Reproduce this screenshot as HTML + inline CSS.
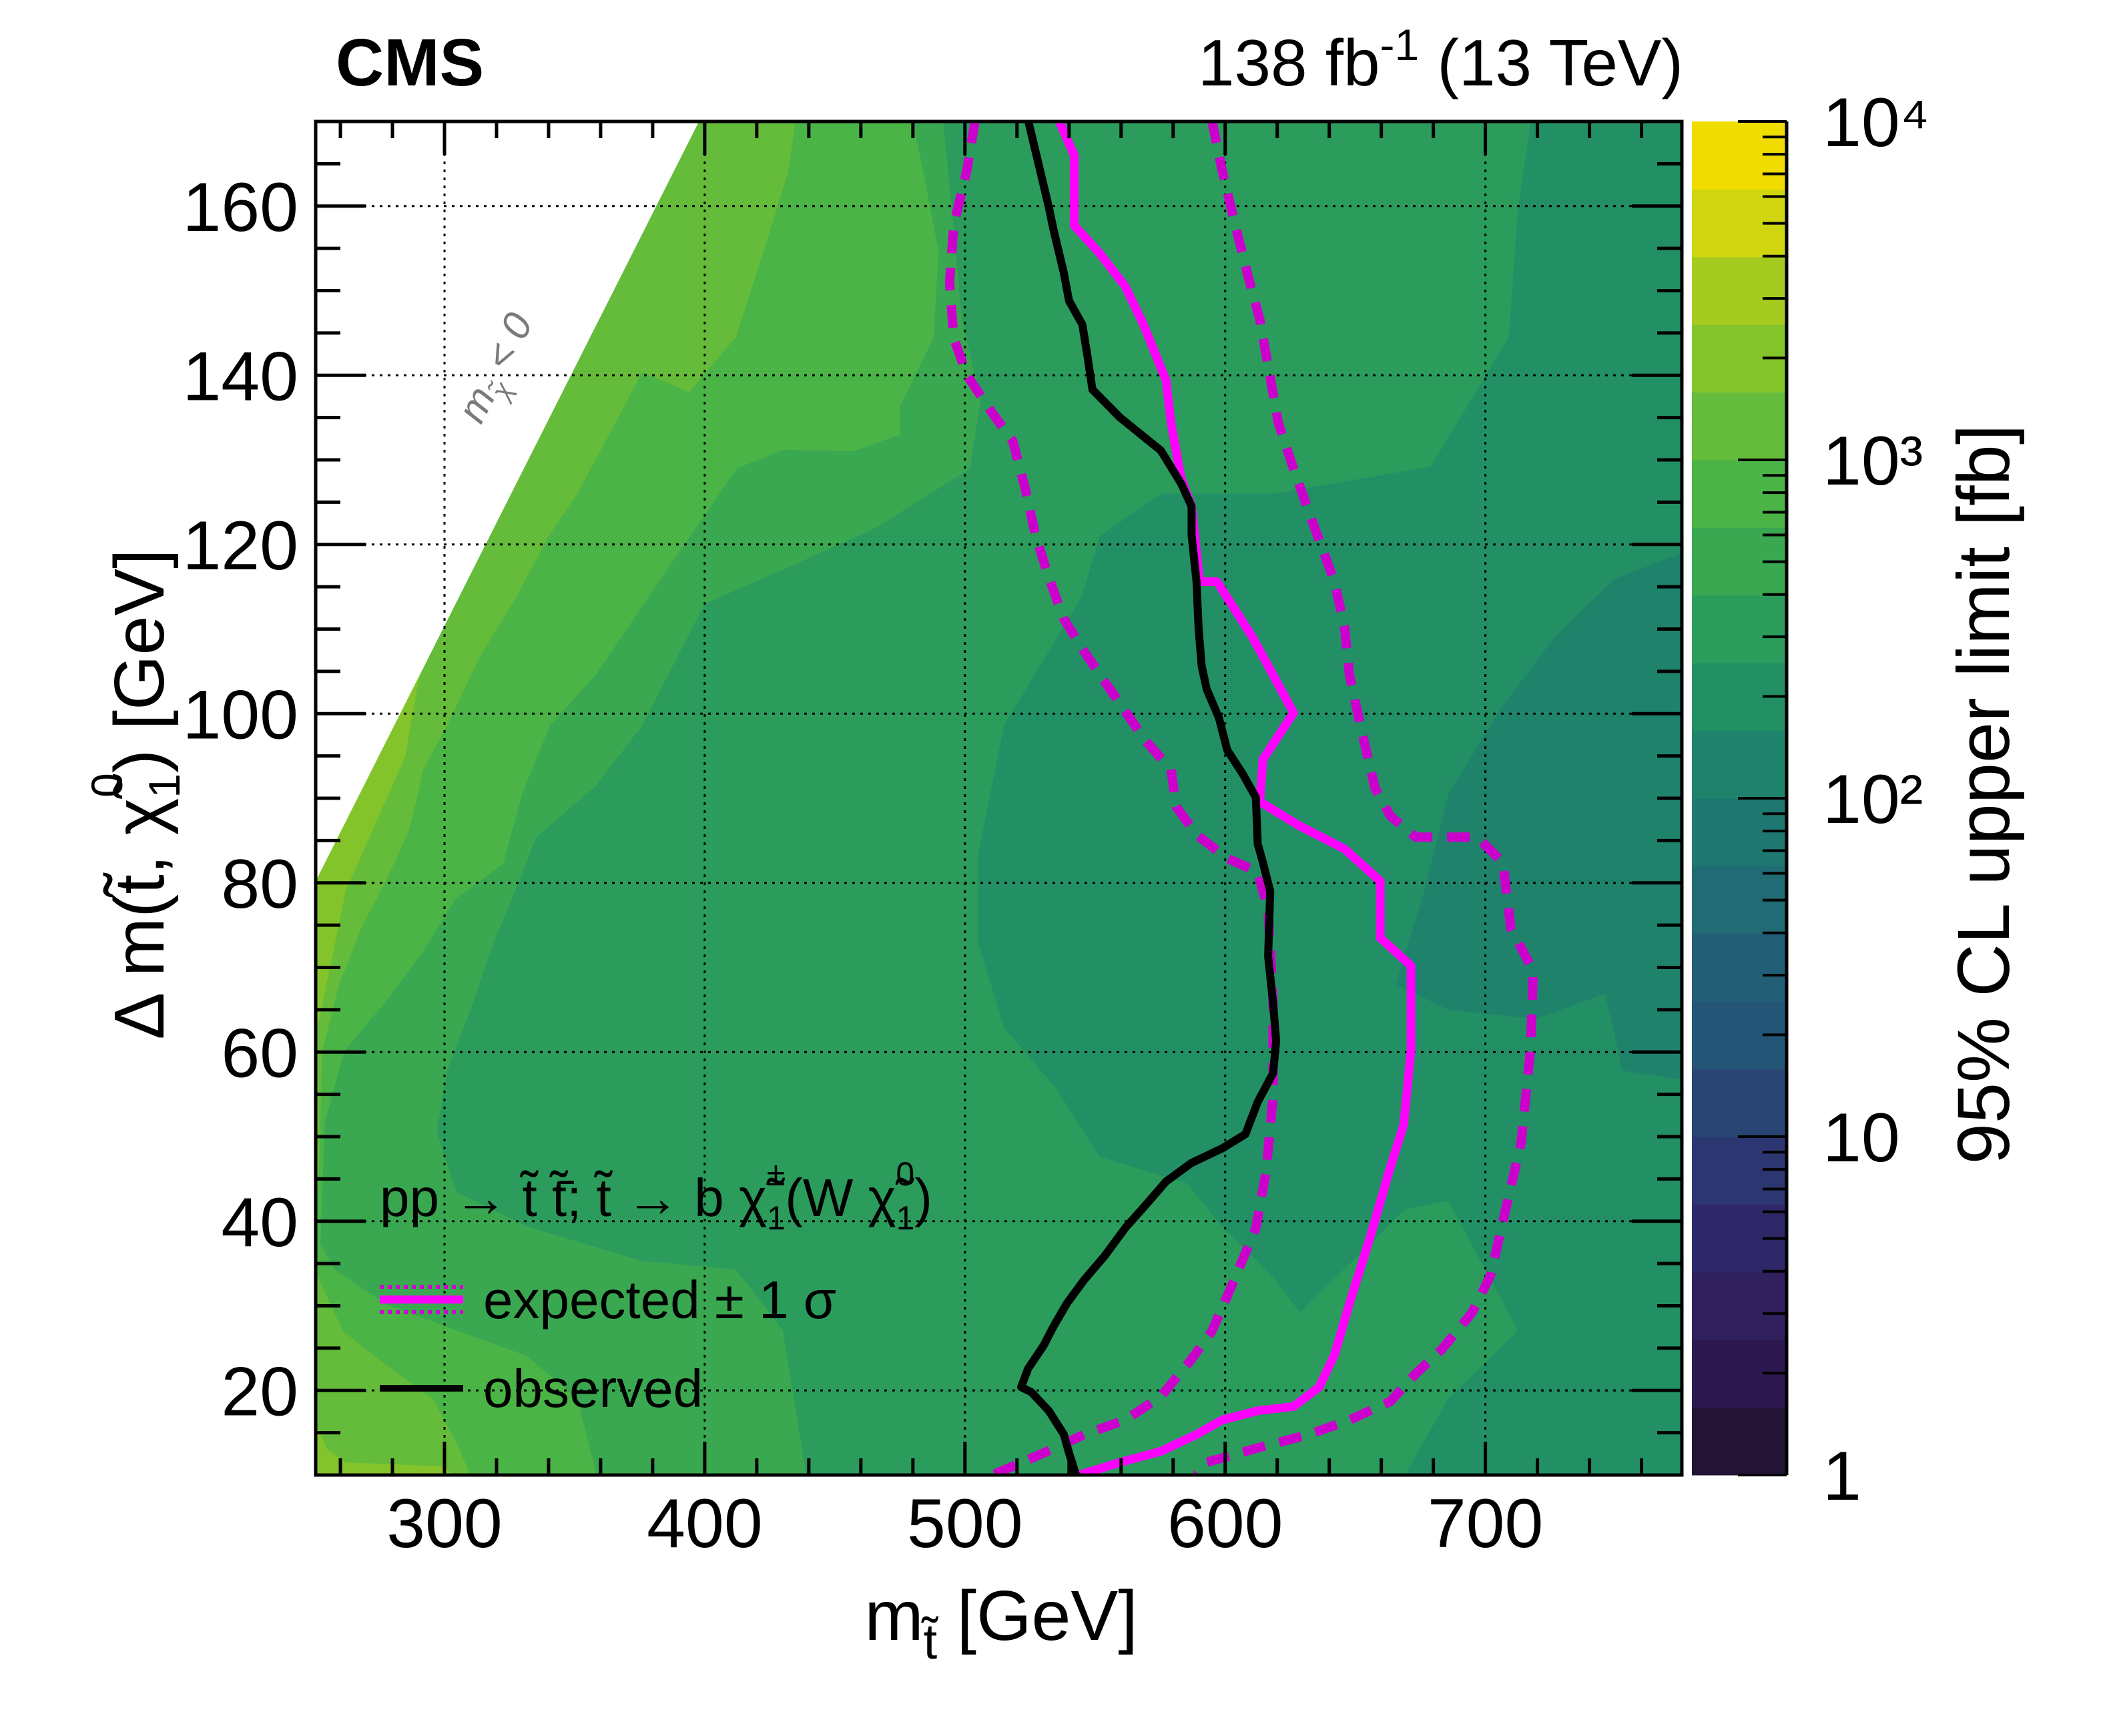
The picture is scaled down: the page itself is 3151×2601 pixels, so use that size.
<!DOCTYPE html>
<html><head><meta charset="utf-8"><title>CMS limit</title>
<style>
html,body{margin:0;padding:0;background:#fff;}
svg{display:block;font-family:"Liberation Sans",Arial,sans-serif;}
</style></head>
<body>
<svg id="chart" xmlns="http://www.w3.org/2000/svg" width="3151" height="2601" viewBox="0 0 3151 2601">
<rect x="0" y="0" width="3151" height="2601" fill="#fff"/>
<defs><clipPath id="pclip"><rect x="473" y="182" width="2047" height="2028"/></clipPath></defs>
<g id="fills" clip-path="url(#pclip)"></g>
<g id="grid"></g>
<g id="curves" clip-path="url(#pclip)"></g>
<g id="axes"></g>
<g id="cbar"></g>

<text x="503" y="128" font-size="100" font-weight="bold">CMS</text>
<text x="2522" y="128" font-size="98" text-anchor="end">138 fb<tspan dy="-38" font-size="66">-1</tspan><tspan dy="38"> (13 TeV)</tspan></text>

<text x="1500" y="2457" font-size="106" text-anchor="middle">m<tspan dy="28" font-size="74">t&#771;</tspan><tspan dy="-28"> [GeV]</tspan></text>
<text transform="translate(245,1190) rotate(-90)" font-size="106" text-anchor="middle">&#916; m(t&#771;, &#967;&#771;<tspan dy="24" font-size="66">1</tspan><tspan dy="-86" dx="-36" font-size="66">0</tspan><tspan dy="62">) [GeV]</tspan></text>
<text transform="translate(3010,1190) rotate(-90)" font-size="110" text-anchor="middle">95% CL upper limit [fb]</text>

<text transform="translate(760,560) rotate(-63)" font-size="60" font-style="italic" fill="#7a7a7a" text-anchor="middle">m<tspan dy="18" font-size="40">&#967;&#771;</tspan><tspan dy="-18"> &lt; 0</tspan></text>

<g>
<text x="569" y="1822" font-size="80">pp &#8594; t&#771; t&#771;&#772;; t&#771; &#8594; b &#967;&#771;<tspan dy="20" font-size="50">1</tspan><tspan dy="-66" dx="-28" font-size="50">&#177;</tspan><tspan dy="46">(W &#967;&#771;</tspan><tspan dy="20" font-size="50">1</tspan><tspan dy="-66" dx="-28" font-size="50">0</tspan><tspan dy="46">)</tspan></text>
<line x1="569" y1="1947" x2="694" y2="1947" stroke="#ff00ff" stroke-width="12"/>
<line x1="569" y1="1928" x2="694" y2="1928" stroke="#cc00cc" stroke-width="6" stroke-dasharray="6 6"/>
<line x1="569" y1="1966" x2="694" y2="1966" stroke="#cc00cc" stroke-width="6" stroke-dasharray="6 6"/>
<text x="724" y="1975" font-size="80">expected &#177; 1 &#963;</text>
<line x1="569" y1="2080" x2="694" y2="2080" stroke="#000" stroke-width="10"/>
<text x="724" y="2108" font-size="80">observed</text>
</g>
</svg>
<script>
// ---- data ----
const xTicks = [300, 400, 500, 600, 700];
const yTicks = [20, 40, 60, 80, 100, 120, 140, 160];
const cbarLabels = ["1", "10", "10²", "10³", "10⁴"];
const bandColors = ["#231436","#2d1850","#30205e","#2f2868","#2c3670","#284573","#245476","#225f76","#206b74","#1f7771","#1f836c","#229064","#2b9c5c","#3aa851","#4bb447","#65bb3a","#84c42b","#a5cb1e","#cfd60f","#f1dc00"];

const regionBase = "#65bb3a";
const regionB16a = [[250.5,80.2],[294,106.7],[290,104],[285,95],[272,86],[262,79],[256,70],[252,64],[250.5,62]];
const regionB16b = [[250.5,16],[255,13],[262,11.5],[300,11],[303,10],[250.5,10]];
const regionB14 = [[434.9,170],[432,164],[423,155],[412,144.5],[394,138],[376,140.4],[365.6,134.3],[351,126],[340,121],[328,114],[313.5,106.7],[301,98.6],[292,93.5],[286.5,86.3],[277.5,80.2],[268.5,75],[259.5,68],[253,60],[252,47.6],[250.5,40],[250.5,34],[261,27],[277.5,23],[295.5,19],[304.5,13.9],[310,10],[775.5,10],[775.5,170]];
const regionB13 = [[479.9,170],[484,164],[489.8,154.7],[488,144.5],[475,136.3],[475,133],[457,131],[430.4,131.2],[412.4,129],[394.4,121],[376.4,112.9],[358.4,104.7],[340.5,98.6],[329.7,90.4],[322.5,82.2],[304.5,78.2],[292,72],[277.5,66],[261.3,60],[254,51.6],[252.3,37.3],[257.7,34.3],[277.5,30.2],[304.5,27.1],[331.5,24.1],[351.2,19],[358.4,10],[775.5,10],[775.5,170]];
const regionB12 = [[491.6,170],[495,159.8],[498.8,146.5],[506,137.3],[502,129],[466,122],[430,117],[400,113],[376,98.6],[358,91.4],[335,85.3],[330,81.2],[319,73],[310,65],[301,57.8],[297,50.6],[304.5,43.5],[331.5,39.4],[376,35.3],[412,34.3],[430,27.1],[439,10],[775.5,10],[775.5,170]];
const regionB11 = [[717.5,170],[712.5,159.8],[709,144.5],[679,129.2],[618.8,126],[575.3,126],[551.8,121],[545,113.9],[515,98.6],[505,83.3],[505,73],[515,62.9],[535,55.7],[551.8,47.6],[585.3,44.5],[598.7,39.4],[618.8,33.3],[628.8,29.2],[645.6,34.3],[669,41.4],[685.7,42.4],[712.5,27.1],[685.7,19],[669,10],[775.5,10],[775.5,170]];
const regionB10 = [[775.5,119],[749.4,115.9],[726,108.8],[705.8,100.6],[685.7,90.4],[675.7,78.2],[665.6,68],[685.7,65],[719.2,63.9],[746,66.9],[752.7,57.8],[775.5,56.7]];
const forbiddenRegion = [[250.5,80.2],[397.8,170],[250.5,170]];

const observed = [[524.3,170.1],[532.2,159.9],[534.1,157.1],[538,152.1],[540,148.8],[545.1,146],[547.1,142.2],[549,138.3],[559.6,135],[575.3,131.1],[583.1,127.2],[587.1,124.5],[587.1,121.1],[589,115.6],[589.8,110.1],[591,105.6],[592.9,102.9],[597.6,99.5],[600.8,95.7],[606.7,92.9],[611.8,90.1],[612.5,84.6],[614.5,82.4],[617.3,79],[616.5,71.3],[618.4,65.8],[619.6,61.3],[618.4,57.5],[612.5,54.1],[607.8,50.3],[598.8,48.6],[587.1,46.9],[577.3,44.7],[569.4,41.9],[561.6,39.2],[553.7,35.9],[545.9,33.1],[539.2,30.3],[534.1,27.6],[530.2,25.3],[524.3,22.6],[521.6,20.4],[525.5,19.8],[532.2,17.6],[538,14.8],[540,12.6],[542.7,10]];
const expected = [[536.1,170.1],[542,166],[542,157.7],[551.8,154.4],[561.6,150.5],[568.6,146],[577.3,139.4],[579.2,134.4],[583.1,127.8],[587.1,124.5],[590.2,115.6],[596.9,115.6],[610.6,109],[626.3,100.1],[614.5,94.6],[613.3,89.6],[628.2,86.8],[645.9,84],[659.6,80.2],[659.6,73.5],[671.4,70.2],[671.4,60.2],[668.6,51.4],[663.5,46.4],[655.7,38.1],[647.8,30.3],[642,24.2],[636.1,20.4],[626.3,18.1],[612.5,17.6],[598.8,16.5],[589,14.8],[575.3,12.8],[559.6,11.5],[543.9,10]];
const expectedDown = [[503.9,170.1],[500.8,164.3],[495.7,157.7],[494.1,151],[495.7,144.4],[500.8,140],[510.6,135.5],[518.4,132.2],[523.1,126.7],[527.1,121.1],[532.2,116.1],[538,111.2],[545.9,107.3],[555.7,102.9],[569.4,96.8],[579.2,93.4],[581.2,89],[589,85.7],[600.8,82.9],[612.5,81.3],[616.5,76.8],[618.4,65.8],[618.4,54.7],[615.7,45.8],[611.8,39.2],[602.7,32.5],[594.9,27],[587.1,23.7],[575.3,19.3],[561.6,16.5],[545.9,14.8],[530.2,12.6],[510.6,10]];
const expectedUp = [[594.9,170.1],[598.8,164.3],[603.9,157.7],[609.4,151],[613.3,146.6],[616.5,141.1],[620.4,134.4],[626.3,128.9],[634.1,122.2],[642,115.6],[645.9,110.1],[647.8,104.5],[652.5,97.9],[657.6,91.2],[663.5,87.9],[673.3,85.4],[696.9,85.4],[706.7,82.4],[709.8,74.6],[718.4,69.6],[717.3,60.2],[713.7,49.2],[707.8,41.4],[702,33.6],[694.9,29.2],[683.1,24.8],[673.3,22],[663.5,18.7],[647.8,16.5],[632.2,14.8],[612.5,13.2],[592.9,11.5],[589,10]];

// ---- scales ----
const PL=473, PR=2520, PT=182, PB=2210, XMIN=250.5, XMAX=775.5, YMIN=10, YMAX=170;
function X(v){return PL+(v-XMIN)*(PR-PL)/(XMAX-XMIN);}
function Y(v){return PB-(v-YMIN)*(PB-PT)/(YMAX-YMIN);}
const CL=2535, CR=2677;
function CY(v){return PB-Math.log10(v)/4*(PB-PT);}
const NS="http://www.w3.org/2000/svg";
function mk(tag, parent, attrs){const e=document.createElementNS(NS,tag);for(const k in attrs)e.setAttribute(k,attrs[k]);parent.appendChild(e);return e;}
function pts(arr){return arr.map(p=>X(p[0]).toFixed(1)+","+Y(p[1]).toFixed(1)).join(" ");}

// fills
const fills=document.getElementById("fills");
let bg=mk("rect",fills,{x:PL,y:PT,width:PR-PL,height:PB-PT,fill:regionBase});


const regions=[[regionB16a,"#84c42b","map-level-16a"],[regionB16b,"#84c42b","map-level-16b"],[regionB14,"#4bb447","map-level-14"],[regionB13,"#3aa851","map-level-13"],[regionB12,"#2b9c5c","map-level-12"],[regionB11,"#229064","map-level-11"],[regionB10,"#1f836c","map-level-10"],[forbiddenRegion,"#ffffff","forbidden-region"]];
regions.forEach(r=>{
  const p=mk("polygon",fills,{points:pts(r[0]),fill:r[1]});
  
  
});

// grid
const grid=document.getElementById("grid");
xTicks.forEach(t=>{
  const l=mk("line",grid,{x1:X(t),x2:X(t),y1:PT,y2:PB,stroke:"#000","stroke-width":3,"stroke-dasharray":"4 8"});
  
  
});
yTicks.forEach(t=>{
  const l=mk("line",grid,{x1:PL,x2:PR,y1:Y(t),y2:Y(t),stroke:"#000","stroke-width":3,"stroke-dasharray":"4 8"});
  
  
});

// curves
const curves=document.getElementById("curves");
const cdefs=[[expectedDown,"#cc00cc",14,"34 22","expected-minus-1sigma"],[expectedUp,"#cc00cc",14,"34 22","expected-plus-1sigma"],[expected,"#ff00ff",13,"","expected-limit"],[observed,"#000000",12,"","observed-limit"]];
cdefs.forEach(c=>{
  const a={points:pts(c[0]),fill:"none",stroke:c[1],"stroke-width":c[2],"stroke-linejoin":"round"};
  if(c[3])a["stroke-dasharray"]=c[3];
  const p=mk("polyline",curves,a);
  
  
});

// axes
const axes=document.getElementById("axes");
const frame=mk("rect",axes,{x:PL,y:PT,width:PR-PL,height:PB-PT,fill:"none",stroke:"#000","stroke-width":5});


for(let v=260; v<=775; v+=20){
  const major=(v%100===0), len=major?50:25;
  [[PB,PB-len],[PT,PT+len]].forEach(s=>{
    const l=mk("line",axes,{x1:X(v),x2:X(v),y1:s[0],y2:s[1],stroke:"#000","stroke-width":5});
    
    
  });
}
for(let v=10; v<=170; v+=5){
  const major=(v%20===0), len=major?75:37;
  [[PL,PL+len],[PR,PR-len]].forEach(s=>{
    const l=mk("line",axes,{x1:s[0],x2:s[1],y1:Y(v),y2:Y(v),stroke:"#000","stroke-width":5});
    
    
  });
}
xTicks.forEach(t=>{
  const tx=mk("text",axes,{x:X(t),y:2318,"font-size":104,"text-anchor":"middle"});
  tx.textContent=String(t);
  
  
});
yTicks.forEach(t=>{
  const tx=mk("text",axes,{x:447,y:Y(t)+37,"font-size":104,"text-anchor":"end"});
  tx.textContent=String(t);
  
  
});

// colour bar
const cbar=document.getElementById("cbar");
const bh=(PB-PT)/bandColors.length;
bandColors.forEach((c,i)=>{
  const r=mk("rect",cbar,{x:CL,y:PB-(i+1)*bh,width:CR-CL,height:bh+0.5,fill:c});
  
  
});
const cedge=mk("line",cbar,{x1:CR,x2:CR,y1:PT,y2:PB,stroke:"#000","stroke-width":5});


for(let d=0; d<4; d++){
  for(let m=1; m<=9; m++){
    const v=m*Math.pow(10,d), len=(m===1)?73:36;
    const l=mk("line",cbar,{x1:CR-len,x2:CR,y1:CY(v),y2:CY(v),stroke:"#000","stroke-width":4});
    
    
  }
}
const topTick=mk("line",cbar,{x1:CR-73,x2:CR,y1:CY(10000),y2:CY(10000),stroke:"#000","stroke-width":4});


cbarLabels.forEach((lab,i)=>{
  const tx=mk("text",cbar,{x:2731,y:CY(Math.pow(10,i))+37,"font-size":104});
  tx.textContent=lab;
  
  
});
</script>
</body></html>
